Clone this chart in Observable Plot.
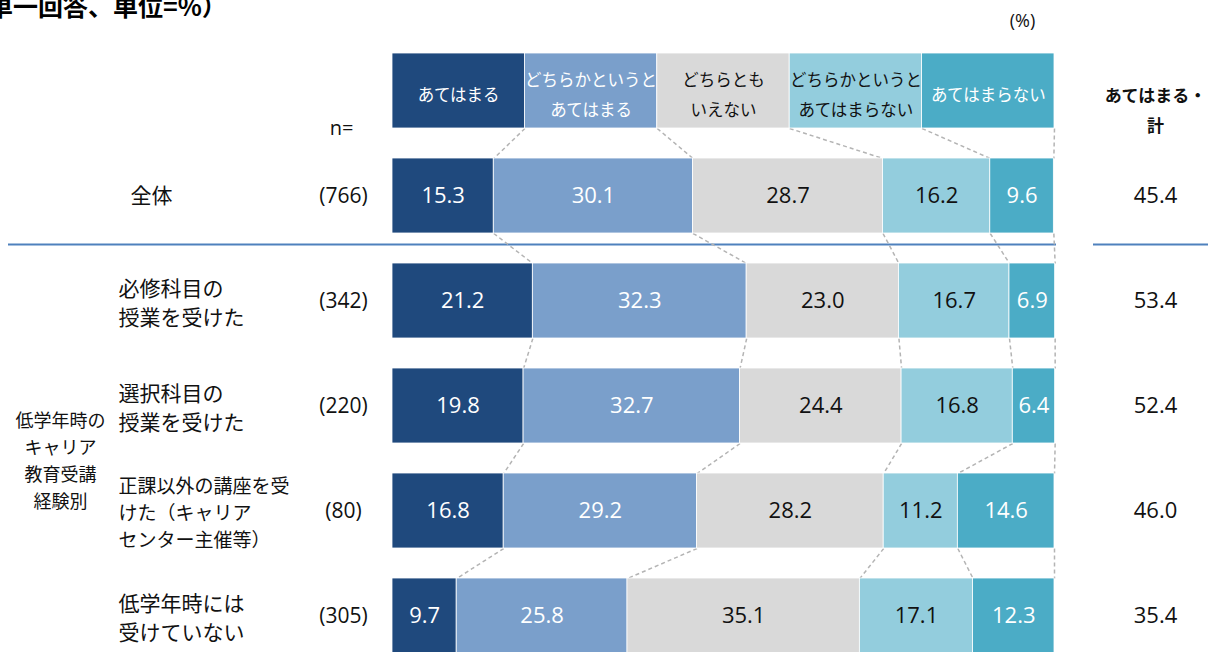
<!DOCTYPE html>
<html>
<head>
<meta charset="utf-8">
<script src="https://cdn.jsdelivr.net/npm/d3@7"></script>
<script src="https://cdn.jsdelivr.net/npm/@observablehq/plot@0.6"></script>
<style>
  body { margin: 0; background: #fff; overflow: hidden; }
  #wrap { position: relative; width: 1208px; height: 652px; overflow: hidden; background: #fff; }
  #title { position: absolute; z-index: 2; left: -37px; top: -7px; font: bold 25px/24px "Noto Sans CJK JP", sans-serif; white-space: nowrap; color: #000; }
  #chart { position: absolute; z-index: 1; left: 0; top: 0; }
</style>
</head>
<body>
<div id="wrap">
  <div id="chart"></div>
  <div id="title">（単一回答、単位=%）</div>
</div>
<script>
// ---- data ----
const responses = ["あてはまる", "どちらかというとあてはまる", "どちらともいえない", "どちらかというとあてはまらない", "あてはまらない"];
const legendLabels = ["あてはまる", "どちらかというと\nあてはまる", "どちらとも\nいえない", "どちらかというと\nあてはまらない", "あてはまらない"];
const groups = ["全体", "必修科目の\n授業を受けた", "選択科目の\n授業を受けた", "正課以外の講座を受\nけた（キャリア\nセンター主催等）", "低学年時には\n受けていない"];
const nValues = [766, 342, 220, 80, 305];
const atehamaru = [15.3, 21.2, 19.8, 16.8, 9.7];
const dochirakaAtehamaru = [30.1, 32.3, 32.7, 29.2, 25.8];
const dochiramoIenai = [28.7, 23.0, 24.4, 28.2, 35.1];
const dochirakaAtehamaranai = [16.2, 16.7, 16.8, 11.2, 17.1];
const atehamaranai = [9.6, 6.9, 6.4, 14.6, 12.3];
const totals = [45.4, 53.4, 52.4, 46.0, 35.4];
const groupLabel = "低学年時の\nキャリア\n教育受講\n経験別";
const totalHeader = "あてはまる・\n計";
const unitLabel = "(%)";
const nLabel = "n=";

// ---- styles ----
const colors = ["#1f497d", "#7a9fcb", "#d9d9d9", "#93cddd", "#4bacc6"];
const textColors = ["#ffffff", "#ffffff", "#111111", "#111111", "#ffffff"];
const numFont = '"Open Sans", sans-serif';
const H = (75 / 105) / 2; // half bar thickness in row units

// ---- build tables ----
const series = [atehamaru, dochirakaAtehamaru, dochiramoIenai, dochirakaAtehamaranai, atehamaranai];
const legendSegs = responses.map((r, k) => ({row: 0, k, response: r, x1: k * 20, x2: (k + 1) * 20, label: legendLabels[k]}));
const segs = [];
groups.forEach((g, i) => {
  let c = 0;
  series.forEach((s, k) => {
    segs.push({row: i + 1, k, response: responses[k], x1: c, x2: c + s[i], value: s[i]});
    c += s[i];
  });
});
const levels = [legendSegs, ...groups.map((g, i) => segs.filter(d => d.row === i + 1))];
const links = [];
for (let L = 0; L < levels.length - 1; L++) {
  for (let k = 0; k < 5; k++) {
    links.push({x1: levels[L][k].x2, y1: L + H, x2: levels[L + 1][k].x2, y2: L + 1 - H});
  }
}
const rows = groups.map((g, i) => ({row: i + 1, label: g, n: nValues[i], total: totals[i], lines: g.split("\n").length}));

const chart = Plot.plot({
  width: 1208,
  height: 652,
  marginLeft: 0, marginRight: 0, marginTop: 0, marginBottom: 0,
  x: {domain: [0, 100], range: [392, 1054], axis: null},
  y: {domain: [0, 5], range: [90.5, 615.5], axis: null},
  color: {domain: responses, range: colors},
  style: {fontFamily: '"Noto Sans CJK JP", sans-serif', background: "white", color: "#111"},
  marks: [
    // separator lines
    Plot.ruleY([1.5], {stroke: "#4f81bd", strokeWidth: 2, dy: -4, insetLeft: 8, insetRight: 152}),
    Plot.ruleY([1.5], {stroke: "#4f81bd", strokeWidth: 2, dy: -4, insetLeft: 1093, insetRight: 0}),
    // dashed connectors
    Plot.link(links, {x1: "x1", y1: "y1", x2: "x2", y2: "y2", stroke: "#b4b4b4", strokeWidth: 1.5, strokeDasharray: "4,3"}),
    // legend boxes
    Plot.rect(legendSegs, {x1: "x1", x2: "x2", y1: d => d.row - H, y2: d => d.row + H, fill: "response", stroke: "white", strokeWidth: 0.8}),
    Plot.text(legendSegs, {x: d => (d.x1 + d.x2) / 2, y: "row", text: "label", fill: d => textColors[d.k], fontSize: 16.5, lineHeight: 1.85}),
    // bars
    Plot.rect(segs, {x1: "x1", x2: "x2", y1: d => d.row - H, y2: d => d.row + H, fill: "response", stroke: "white", strokeWidth: 0.8}),
    Plot.text(segs, {x: d => (d.x1 + d.x2) / 2, y: "row", text: d => d.value.toFixed(1), fill: d => textColors[d.k], fontSize: 22, fontFamily: numFont}),
    // row labels
    Plot.text(rows.filter(d => d.lines === 1), {y: "row", text: "label", frameAnchor: "left", textAnchor: "start", dx: 130, fontSize: 21}),
    Plot.text(rows.filter(d => d.lines === 2), {y: "row", text: "label", frameAnchor: "left", textAnchor: "start", dx: 118, fontSize: 21, lineHeight: 1.42}),
    Plot.text(rows.filter(d => d.lines === 3), {y: "row", text: "label", frameAnchor: "left", textAnchor: "start", dx: 118, fontSize: 19, lineHeight: 1.42}),
    // group label
    Plot.text([groupLabel], {y: [d3.mean(rows.slice(1), d => d.row)], text: d => d, frameAnchor: "left", textAnchor: "middle", dx: 60, fontSize: 18, lineHeight: 1.5}),
    // n labels
    Plot.text([nLabel], {y: [0], text: d => d, frameAnchor: "left", textAnchor: "middle", dx: 341, dy: 37.5, fontSize: 20, fontFamily: numFont}),
    Plot.text(rows, {y: "row", text: d => `(${d.n})`, frameAnchor: "left", textAnchor: "middle", dx: 343, fontSize: 21, fontFamily: numFont}),
    // totals
    Plot.text([totalHeader], {y: [0], text: d => d, frameAnchor: "left", textAnchor: "middle", dx: 1155, dy: 16.5, fontSize: 17, fontWeight: "bold", lineHeight: 1.75}),
    Plot.text(rows, {y: "row", text: d => d.total.toFixed(1), frameAnchor: "left", textAnchor: "middle", dx: 1155, fontSize: 22, fontFamily: numFont}),
    // unit
    Plot.text([unitLabel], {y: [0], text: d => d, frameAnchor: "left", textAnchor: "middle", dx: 1022, dy: -70, fontSize: 18, fontFamily: numFont})
  ]
});
document.getElementById("chart").appendChild(chart);
</script>
</body>
</html>
